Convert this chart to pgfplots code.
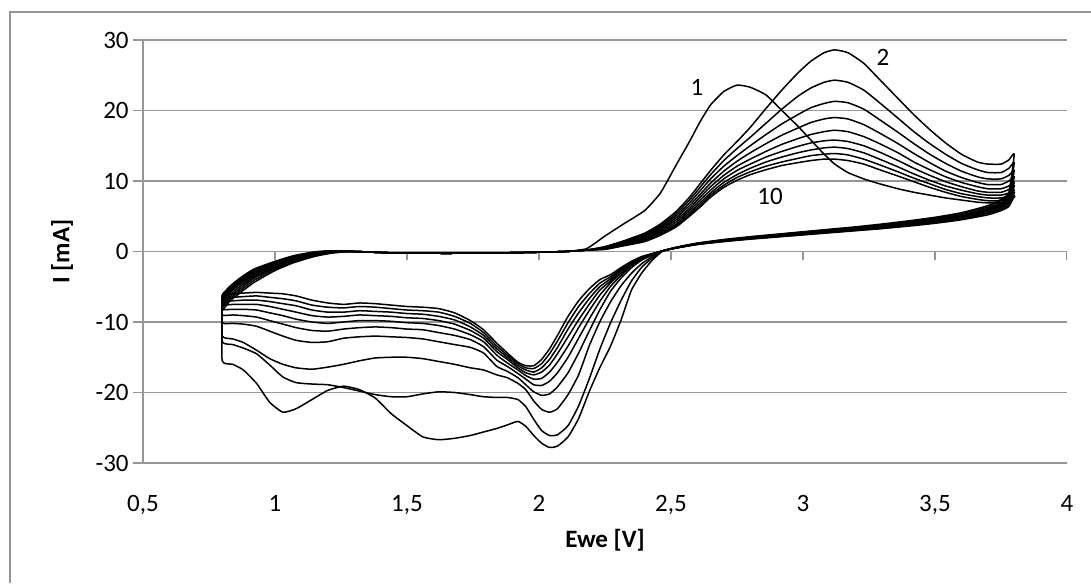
\documentclass[border=0pt]{standalone}
\usepackage{fontspec}
\setmainfont{Carlito}
\usepackage{pgfplots}
\usepackage{pgfplotstable}
\pgfplotsset{compat=1.18}
\definecolor{gridgray}{RGB}{150,150,150}

\pgfplotstableread{
V c1 c2 c3 c4 c5 c6 c7 c8 c9 c10
0.80 -8.4 -8.0 -7.7 -7.4 -7.1 -6.9 -6.7 -6.5 -6.3 -6.1
0.83 -7.0 -6.7 -6.4 -6.1 -5.8 -5.6 -5.4 -5.2 -5.0 -4.9
0.87 -5.8 -5.5 -5.2 -4.9 -4.6 -4.4 -4.2 -4.0 -3.8 -3.7
0.92 -4.4 -4.1 -3.8 -3.6 -3.4 -3.2 -3.0 -2.8 -2.6 -2.5
1.00 -2.7 -2.5 -2.3 -2.2 -2.0 -1.9 -1.8 -1.6 -1.5 -1.4
1.07 -1.6 -1.5 -1.3 -1.2 -1.1 -1.0 -0.9 -0.8 -0.7 -0.6
1.15 -0.7 -0.6 -0.5 -0.45 -0.4 -0.3 -0.25 -0.2 -0.1 -0.05
1.22 -0.2 -0.15 -0.1 -0.05 0 0.05 0.1 0.1 0.1 0.1
1.30 0 0 0 0 0 0 0 0 0 0
1.45 -0.2 -0.2 -0.2 -0.2 -0.2 -0.2 -0.2 -0.2 -0.2 -0.2
1.65 -0.25 -0.25 -0.25 -0.25 -0.25 -0.25 -0.25 -0.25 -0.25 -0.25
1.85 -0.2 -0.2 -0.2 -0.2 -0.2 -0.2 -0.2 -0.2 -0.2 -0.2
2.00 -0.1 -0.1 -0.1 -0.1 -0.1 -0.1 -0.1 -0.1 -0.1 -0.1
2.10 0 0 0 0 0 0 0 0 0 0
2.18 0.4 0.2 0.2 0.2 0.2 0.2 0.2 0.2 0.2 0.2
2.25 2.2 0.7 0.65 0.6 0.55 0.5 0.45 0.4 0.35 0.3
2.32 3.9 1.5 1.4 1.3 1.2 1.1 1.0 0.95 0.9 0.8
2.40 5.8 2.6 2.45 2.3 2.15 2.0 1.85 1.7 1.55 1.4
2.46 8.3 3.9 3.7 3.5 3.3 3.1 2.9 2.7 2.5 2.3
2.52 12.3 5.7 5.4 5.1 4.8 4.5 4.2 3.9 3.7 3.5
2.57 15.6 7.7 7.3 6.9 6.5 6.1 5.8 5.5 5.2 5.0
2.61 18.4 9.6 9.1 8.6 8.1 7.7 7.3 6.9 6.6 6.3
2.65 20.8 11.5 10.9 10.3 9.7 9.2 8.7 8.3 8.0 7.7
2.70 22.7 13.7 12.9 12.1 11.4 10.8 10.3 9.8 9.4 9.1
2.75 23.6 15.6 14.6 13.6 12.8 12.1 11.5 10.9 10.5 10.1
2.80 23.3 17.6 16.2 15.0 14.0 13.1 12.4 11.8 11.3 10.9
2.86 22.2 20.3 18.2 16.6 15.3 14.2 13.4 12.7 12.1 11.6
2.92 20.0 22.9 20.2 18.1 16.5 15.2 14.2 13.4 12.7 12.2
2.98 17.8 25.3 22.0 19.4 17.5 16.0 14.9 14.0 13.2 12.6
3.03 15.8 27.0 23.2 20.4 18.3 16.6 15.4 14.4 13.6 12.9
3.08 13.8 28.2 24.0 21.0 18.8 17.0 15.7 14.7 13.8 13.1
3.12 12.4 28.6 24.3 21.3 19.0 17.2 15.8 14.8 13.9 13.1
3.17 11.2 28.2 24.0 21.1 18.8 17.0 15.6 14.6 13.7 12.9
3.23 10.3 26.7 22.9 20.2 18.0 16.3 15.0 14.0 13.1 12.4
3.29 9.6 24.4 21.1 18.7 16.8 15.3 14.1 13.1 12.3 11.6
3.36 8.9 21.7 18.9 16.9 15.3 14.0 12.9 12.0 11.3 10.7
3.42 8.4 19.4 17.0 15.3 13.9 12.7 11.8 11.0 10.4 9.9
3.48 8.0 17.3 15.3 13.8 12.6 11.6 10.8 10.1 9.6 9.1
3.54 7.6 15.4 13.8 12.5 11.4 10.6 9.9 9.3 8.8 8.4
3.60 7.3 13.8 12.5 11.4 10.5 9.8 9.2 8.7 8.2 7.8
3.66 7.0 12.7 11.6 10.6 9.8 9.2 8.6 8.2 7.8 7.4
3.70 6.9 12.4 11.2 10.3 9.5 8.9 8.4 8.0 7.6 7.2
3.75 6.9 12.4 11.2 10.3 9.5 8.9 8.4 8.0 7.6 7.2
3.78 7.2 13.0 11.8 10.8 10.0 9.3 8.8 8.3 7.9 7.5
3.80 7.7 13.8 12.6 11.5 10.6 9.8 9.3 8.7 8.3 7.9
3.78 7.6 8.4 8.1 7.8 7.5 7.3 7.1 6.9 6.6 6.4
3.75 6.8 7.4 7.2 6.9 6.7 6.5 6.4 6.2 6.0 5.8
3.70 6.0 6.5 6.3 6.1 5.9 5.8 5.7 5.5 5.4 5.2
3.60 5.1 5.5 5.4 5.2 5.1 5.0 4.9 4.8 4.6 4.5
3.50 4.5 4.85 4.7 4.6 4.5 4.4 4.3 4.2 4.1 4.0
3.40 4.05 4.35 4.25 4.1 4.0 3.95 3.85 3.8 3.7 3.6
3.30 3.6 3.9 3.8 3.7 3.6 3.55 3.5 3.4 3.3 3.25
3.20 3.3 3.5 3.4 3.35 3.25 3.2 3.15 3.1 3.0 2.95
3.10 2.95 3.15 3.1 3.0 2.95 2.9 2.85 2.8 2.7 2.65
3.00 2.6 2.8 2.75 2.65 2.6 2.55 2.5 2.45 2.4 2.35
2.90 2.3 2.45 2.4 2.35 2.25 2.25 2.2 2.15 2.1 2.05
2.80 1.95 2.1 2.05 2.0 1.95 1.9 1.9 1.85 1.8 1.75
2.70 1.6 1.7 1.65 1.6 1.55 1.55 1.5 1.5 1.45 1.4
2.60 1.1 1.2 1.15 1.15 1.1 1.1 1.05 1.05 1.0 1.0
2.52 0.55 0.6 0.6 0.55 0.55 0.55 0.5 0.5 0.5 0.5
2.47 0.1 0.1 0.1 0.1 0.1 0.1 0.1 0.1 0.1 0.1
2.43 -1.2 -0.9 -0.7 -0.5 -0.4 -0.4 -0.4 -0.3 -0.3 -0.3
2.39 -3.0 -2.2 -1.7 -1.2 -1.1 -1.0 -0.9 -0.8 -0.8 -0.7
2.35 -5.5 -4.2 -3.1 -2.3 -2.0 -1.9 -1.7 -1.6 -1.5 -1.4
2.31 -9.8 -7.0 -4.9 -3.8 -3.4 -3.1 -2.8 -2.6 -2.5 -2.3
2.27 -13.5 -10.2 -7.2 -5.7 -5.0 -4.5 -4.2 -3.9 -3.6 -3.3
2.23 -16.5 -13.9 -10.0 -8.3 -7.1 -6.2 -5.5 -5.0 -4.5 -4.0
2.19 -19.9 -18.1 -13.4 -11.3 -9.6 -8.4 -7.5 -6.7 -6.0 -5.3
2.15 -23.7 -21.9 -17.5 -14.4 -12.3 -10.8 -9.7 -8.7 -7.8 -7.0
2.11 -26.3 -24.7 -20.3 -17.2 -15.0 -13.4 -12.1 -11.0 -10.1 -9.2
2.07 -27.6 -26.0 -22.3 -19.2 -17.2 -15.7 -14.5 -13.6 -12.7 -11.9
2.04 -27.8 -26.1 -22.8 -20.2 -18.4 -17.1 -16.1 -15.3 -14.5 -13.8
2.01 -27.2 -25.4 -22.4 -20.4 -19.0 -18.0 -17.1 -16.5 -15.9 -15.3
1.98 -26.1 -23.8 -21.2 -19.9 -18.9 -18.1 -17.5 -17.1 -16.6 -16.2
1.95 -24.8 -22.0 -19.6 -18.9 -18.1 -17.6 -17.2 -16.8 -16.5 -16.2
1.92 -24.1 -21.0 -18.7 -17.9 -17.3 -16.8 -16.5 -16.2 -15.9 -15.7
1.88 -24.6 -20.7 -17.9 -17.0 -16.3 -15.8 -15.3 -15.0 -14.7 -14.4
1.84 -25.1 -20.7 -17.5 -16.3 -15.4 -14.7 -14.2 -13.8 -13.4 -13.0
1.79 -25.6 -20.6 -16.8 -14.4 -13.5 -12.8 -12.3 -11.9 -11.5 -11.1
1.74 -26.1 -20.3 -16.5 -13.6 -12.5 -11.8 -11.2 -10.7 -10.2 -9.8
1.68 -26.5 -20.0 -16.0 -13.2 -11.9 -11.0 -10.3 -9.7 -9.2 -8.7
1.62 -26.7 -19.9 -15.6 -12.8 -11.5 -10.5 -9.8 -9.2 -8.6 -8.1
1.56 -26.3 -20.2 -15.2 -12.4 -11.1 -10.2 -9.5 -8.9 -8.4 -7.9
1.50 -24.7 -20.6 -15.0 -12.2 -11.0 -10.1 -9.4 -8.8 -8.3 -7.8
1.44 -23.0 -20.6 -15.0 -12.1 -10.8 -9.9 -9.2 -8.6 -8.1 -7.6
1.38 -20.8 -20.3 -15.1 -12.0 -10.7 -9.8 -9.1 -8.5 -7.9 -7.4
1.32 -19.6 -19.8 -15.5 -12.1 -10.8 -9.8 -9.0 -8.4 -7.8 -7.3
1.26 -19.1 -19.3 -16.0 -12.3 -11.0 -10.0 -9.2 -8.6 -8.0 -7.5
1.20 -19.7 -18.9 -16.4 -12.8 -11.3 -10.2 -9.3 -8.6 -7.9 -7.3
1.14 -21.0 -18.8 -16.7 -12.9 -11.2 -10.0 -9.1 -8.3 -7.6 -6.9
1.08 -22.3 -18.6 -16.5 -12.6 -10.8 -9.6 -8.6 -7.7 -7.0 -6.3
1.03 -22.8 -17.8 -16.0 -12.0 -10.3 -9.1 -8.2 -7.4 -6.7 -6.0
0.98 -21.4 -16.1 -15.2 -11.3 -9.8 -8.7 -7.8 -7.1 -6.5 -5.9
0.93 -18.7 -14.5 -14.0 -10.6 -9.3 -8.3 -7.5 -6.9 -6.3 -5.8
0.88 -16.8 -13.7 -12.9 -10.3 -9.1 -8.2 -7.5 -6.9 -6.4 -5.9
0.84 -16.0 -13.2 -12.4 -10.2 -9.0 -8.2 -7.5 -7.0 -6.5 -6.0
0.80 -15.5 -12.8 -12.0 -10.1 -9.0 -8.2 -7.6 -7.1 -6.6 -6.2
0.80 -8.4 -8.0 -7.7 -7.4 -7.1 -6.9 -6.7 -6.5 -6.3 -6.1
}\cvdata

\begin{document}
\begin{tikzpicture}
\path[use as bounding box] (-71.5pt,-60pt) rectangle (474pt,231.5pt);
\draw[gridgray, line width=0.8pt] (-66.5pt,-60pt) -- (-66.5pt,225.5pt) -- (474pt,225.5pt);
\begin{axis}[
  at={(0pt,0pt)}, anchor=south west,
  scale only axis, width=462pt, height=211.5pt,
  xmin=0.5, xmax=4, ymin=-30, ymax=30,
  axis lines*=left,
  axis line style={gridgray, line width=0.8pt},
  xtick={0.5,1,1.5,2,2.5,3,3.5,4},
  xticklabels={{0,5},{1},{1,5},{2},{2,5},{3},{3,5},{4}},
  ytick={-30,-20,-10,0,10,20,30},
  yticklabels={-30,-20,-10,0,10,20,30},
  tick align=outside,
  major tick length=5pt,
  xtick style={draw=none},
  ytick style={gridgray, line width=0.8pt},
  ymajorgrids,
  major grid style={gridgray, line width=0.8pt},
  tick label style={font=\fontsize{12.5}{14}\selectfont, text=black},
  yticklabel style={inner sep=0pt, anchor=east, xshift=-2pt},
  xticklabel style={inner sep=0pt, anchor=north, yshift=-11pt},
  xlabel={\textbf{Ewe [V]}},
  ylabel={\textbf{I [mA]}},
  label style={font=\fontsize{12.5}{14}\selectfont},
  xlabel style={at={(axis description cs:0.5,0)}, anchor=base, inner sep=0pt, yshift=-42pt},
  ylabel style={at={(axis description cs:0,0.5)}, anchor=center, inner sep=0pt, xshift=0pt, yshift=40.5pt},
]
\pgfplotsinvokeforeach{1,1.5,2,2.5,3,3.5,4}{
  \draw[gridgray, line width=0.8pt] (axis cs:#1,0) -- ++(0pt,-4pt);
}
\pgfplotsinvokeforeach{c1,c2,c3,c4,c5,c6,c7,c8,c9,c10}{
  \addplot[black, line width=0.75pt, mark=none, smooth, tension=0.3] table[x=V, y=#1] {\cvdata};
}
\node[font=\fontsize{12.5}{14}\selectfont] at (axis cs:2.598,23.2) {1};
\node[font=\fontsize{12.5}{14}\selectfont] at (axis cs:3.303,27.6) {2};
\node[font=\fontsize{12.5}{14}\selectfont] at (axis cs:2.875,7.8) {10};
\end{axis}
\end{tikzpicture}
\end{document}
